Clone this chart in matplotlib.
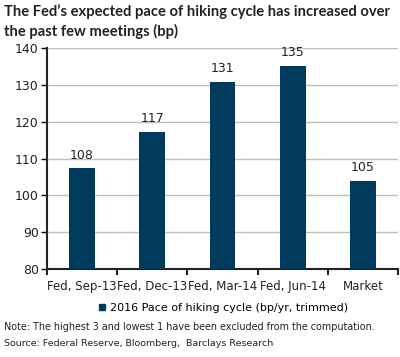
import matplotlib
matplotlib.use("Agg")
import matplotlib.pyplot as plt
from matplotlib.lines import Line2D

categories = ["Fed, Sep-13", "Fed, Dec-13", "Fed, Mar-14", "Fed, Jun-14", "Market"]
bar_values = [107.3, 117.1, 130.9, 135.2, 104.0]
value_labels = ["108", "117", "131", "135", "105"]
y_ticks = [80, 90, 100, 110, 120, 130, 140]
series_name = "2016 Pace of hiking cycle (bp/yr, trimmed)"
title = "The Fed\u2019s expected pace of hiking cycle has increased over\nthe past few meetings (bp)"
note = "Note: The highest 3 and lowest 1 have been excluded from the computation."
source = "Source: Federal Reserve, Bloomberg,  Barclays Research"

color = "#003A5D"
W, H = 400, 357
fig = plt.figure(figsize=(W / 100, H / 100), dpi=100)
ax = fig.add_axes([47 / W, (H - 269) / H, (398 - 47) / W, (269 - 48) / H])

x = list(range(len(categories)))
ax.bar(x, [v - 80 for v in bar_values], bottom=80, width=0.37, color=color, zorder=3)
for xi, v, lab in zip(x, bar_values, value_labels):
    ax.annotate(lab, (xi, v), xytext=(0, 5), textcoords="offset points",
                ha="center", va="bottom", fontsize=9, color="#222222")

ax.set_xlim(-0.5, len(categories) - 0.5)
ax.set_ylim(80, 140)
ax.set_yticks(y_ticks)
ax.set_yticklabels([str(t) for t in y_ticks], fontsize=9, color="#222222")
ax.tick_params(axis="y", direction="out", length=4, width=1, pad=2)

ax.set_xticks([i - 0.5 for i in range(len(categories) + 1)])
ax.set_xticklabels([])
ax.tick_params(axis="x", which="major", direction="out", length=4, width=1.5, color="#222222")
ax.set_xticks(x, minor=True)
ax.set_xticklabels(categories, minor=True, fontsize=8.5, color="#222222")
ax.tick_params(axis="x", which="minor", length=0, pad=8)

ax.grid(axis="y", color="#BFBFBF", linewidth=1, zorder=0)
for s in ["top", "right"]:
    ax.spines[s].set_visible(False)
ax.spines["left"].set_linewidth(1.5)
ax.spines["bottom"].set_linewidth(1.5)
ax.spines["left"].set_color("#222222")
ax.spines["bottom"].set_color("#222222")

handle = Line2D([], [], marker="s", linestyle="none", color=color, markersize=4.5)
fig.legend([handle], [series_name], loc="center", bbox_to_anchor=(222 / W, 1 - 308 / H),
           frameon=False, fontsize=8, handletextpad=0.2, handlelength=1.0, borderpad=0)

fig.text(4 / W, 1 - 4 / H, title, ha="left", va="top", fontsize=10.6, fontweight="bold",
         family="Lato", color="#222222", linespacing=1.4)
fig.text(4 / W, 1 - 327 / H, note, ha="left", va="center", fontsize=6.9, color="#222222")
fig.text(4 / W, 1 - 343 / H, source, ha="left", va="center", fontsize=6.8, color="#222222")

fig.savefig("out.png", dpi=100)
